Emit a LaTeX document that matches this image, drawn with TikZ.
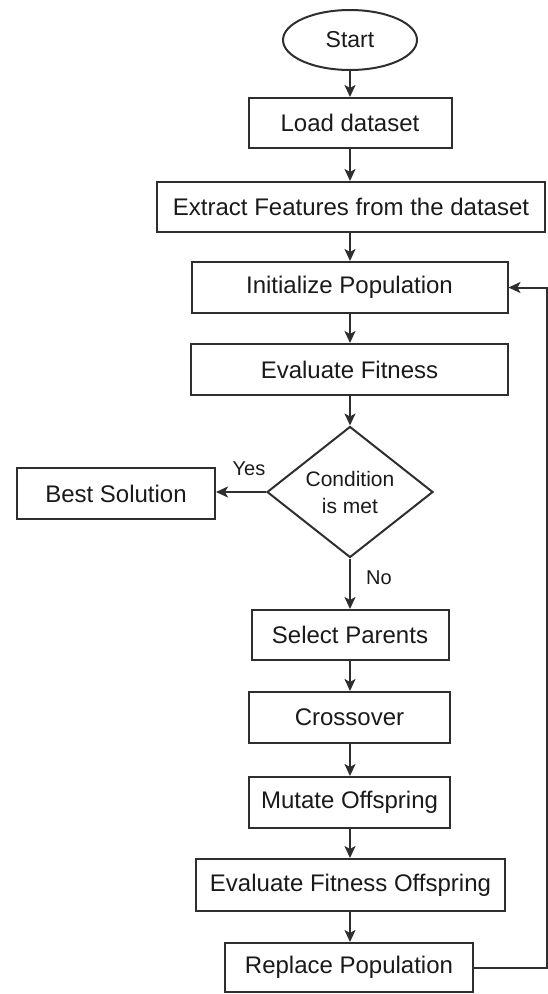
\documentclass[tikz,border=0pt]{standalone}
\usepackage{fontspec}
\setmainfont{Liberation Sans}
\usetikzlibrary{shapes.geometric,arrows.meta}
\definecolor{ln}{HTML}{2E2E2E}
\definecolor{tx}{HTML}{1A1A1A}
\tikzset{
  stepbox/.style={draw=ln, line width=2pt, fill=white, rectangle, inner sep=0pt,
    text=tx, font=\fontsize{24}{28}\selectfont, align=center},
  oval/.style={draw=ln, line width=2pt, ellipse, inner sep=0pt, text=tx,
    minimum width=134pt, minimum height=60pt, font=\fontsize{23}{27}\selectfont},
  decide/.style={draw=ln, line width=2pt, diamond, inner sep=0pt, shape aspect=1.27,
    minimum width=166pt, minimum height=131pt, text=tx, align=center,
    font=\fontsize{21}{27}\selectfont},
  lbl/.style={text=tx, inner sep=0pt, font=\fontsize{20}{24}\selectfont},
  arr/.style={draw=ln, line width=2pt, -{Stealth[length=12pt, width=11pt, inset=3pt]}},
}
\begin{document}
\begin{tikzpicture}[x=1pt, y=-1pt]
\useasboundingbox (0,0) rectangle (548,994);
\node[oval] (start) at (350,40) {Start};
\node[stepbox, minimum width=203pt, minimum height=50pt] (load) at (350,123) {Load dataset};
\node[stepbox, minimum width=388pt, minimum height=50pt] (extract) at (351,207) {Extract Features from the dataset};
\node[stepbox, minimum width=316pt, minimum height=51pt] (init) at (349.5,287.5) {Initialize Population};
\node[stepbox, minimum width=317pt, minimum height=51pt] (evalf) at (349.5,369.5) {Evaluate Fitness};
\node[decide] (cond) at (350,492) {Condition\\is met};
\node[stepbox, minimum width=198pt, minimum height=51pt] (best) at (116,493.5) {Best Solution};
\node[stepbox, minimum width=197pt, minimum height=50pt] (select) at (350,635) {Select Parents};
\node[stepbox, minimum width=201pt, minimum height=51pt] (cross) at (349.5,717.5) {Crossover};
\node[stepbox, minimum width=201pt, minimum height=51pt] (mutate) at (349.5,802.5) {Mutate Offspring};
\node[stepbox, minimum width=309pt, minimum height=52pt] (evalo) at (350.5,885) {Evaluate Fitness Offspring};
\node[stepbox, minimum width=248pt, minimum height=49pt] (replace) at (349,967.5) {Replace Population};
\node[lbl] (yes) at (249,469) {Yes};
\node[lbl] (no) at (379,578) {No};
\coordinate (rail) at (547,600);

\draw[arr] (start.south) -- (start.south |- load.north);
\draw[arr] (start.south |- load.south) -- (start.south |- extract.north);
\draw[arr] (start.south |- extract.south) -- (start.south |- init.north);
\draw[arr] (start.south |- init.south) -- (start.south |- evalf.north);
\draw[arr] (start.south |- evalf.south) -- (cond.north);
\draw[arr] (cond.west) -- (best.east |- cond.west);
\draw[arr] (cond.south) -- (cond.south |- select.north);
\draw[arr] (cond.south |- select.south) -- (cond.south |- cross.north);
\draw[arr] (cond.south |- cross.south) -- (cond.south |- mutate.north);
\draw[arr] (cond.south |- mutate.south) -- (cond.south |- evalo.north);
\draw[arr] (cond.south |- evalo.south) -- (cond.south |- replace.north);
\draw[arr] (replace.east) -| (rail) |- (init.east);
\end{tikzpicture}
\end{document}
